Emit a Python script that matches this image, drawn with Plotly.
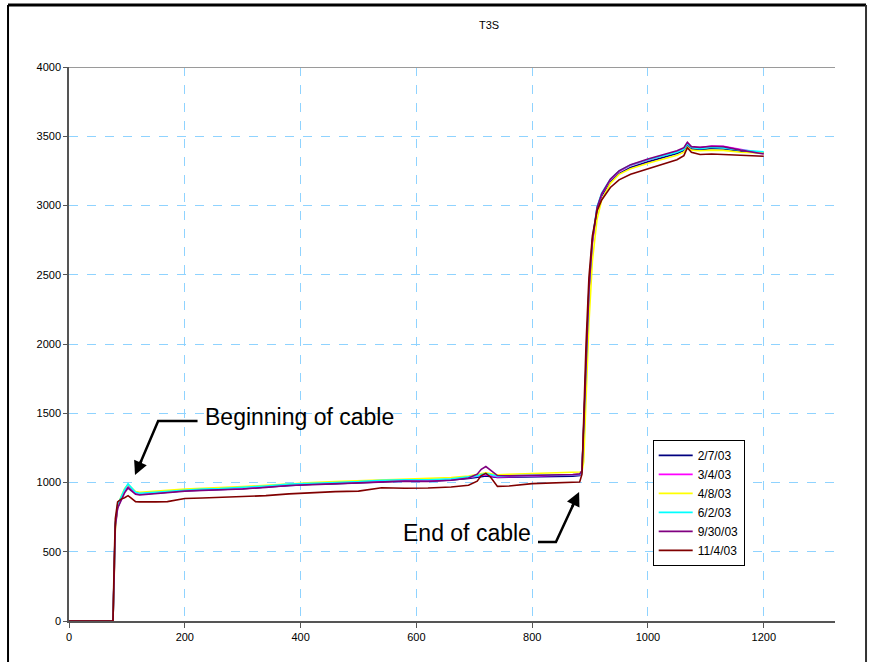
import plotly.graph_objects as go

# Distance samples shared by every trace
distance = [0, 70, 76, 78, 80, 84, 90, 96, 102, 108, 115, 122, 135, 150, 170,
            200, 230, 260, 300, 340, 380, 420, 460, 500, 540, 580, 620, 660,
            690, 705, 712, 720, 728, 740, 760, 800, 840, 870, 882, 886, 889,
            893, 898, 904, 912, 920, 935, 950, 970, 1000, 1030, 1050, 1062,
            1068, 1075, 1090, 1110, 1130, 1160, 1180, 1200]

trace_2_7_03 = [0, 0, 0, 350, 700, 820, 880, 940, 975, 950, 920, 915, 918, 925, 930,
                940, 945, 948, 955, 968, 980, 988, 992, 998, 1008, 1012, 1010, 1018,
                1030, 1036, 1042, 1048, 1044, 1036, 1038, 1040, 1044, 1046, 1050, 1075, 1380,
                1880, 2380, 2740, 2970, 3070, 3170, 3230, 3275, 3315, 3350, 3375, 3398,
                3440, 3410, 3402, 3412, 3408, 3392, 3384, 3380]

trace_3_4_03 = [0, 0, 0, 330, 690, 830, 890, 945, 980, 955, 925, 918, 922, 928, 935,
                944, 948, 952, 960, 972, 984, 992, 996, 1003, 1012, 1016, 1015, 1022,
                1034, 1042, 1050, 1056, 1050, 1040, 1042, 1045, 1048, 1052, 1056, 1080, 1360,
                1850, 2360, 2730, 2980, 3080, 3185, 3245, 3290, 3330, 3365, 3390, 3412,
                3452, 3420, 3418, 3430, 3428, 3405, 3390, 3376]

trace_4_8_03 = [0, 0, 0, 300, 660, 840, 900, 955, 985, 965, 935, 930, 934, 940, 945,
                952, 958, 962, 970, 980, 992, 1000, 1006, 1012, 1022, 1028, 1030, 1036,
                1046, 1056, 1064, 1070, 1064, 1056, 1060, 1064, 1068, 1072, 1076, 1078, 1150,
                1600, 2150, 2600, 2900, 3040, 3160, 3225, 3265, 3305, 3340, 3362, 3385,
                3420, 3400, 3395, 3400, 3398, 3385, 3380, 3378]

trace_6_2_03 = [0, 0, 0, 340, 700, 840, 895, 950, 990, 960, 930, 922, 926, 932, 938,
                948, 952, 956, 963, 975, 988, 996, 1000, 1006, 1016, 1020, 1020, 1026,
                1040, 1048, 1058, 1064, 1058, 1046, 1048, 1050, 1052, 1054, 1058, 1080, 1400,
                1900, 2400, 2760, 2990, 3090, 3190, 3250, 3292, 3330, 3362, 3385, 3405,
                3445, 3418, 3410, 3420, 3416, 3400, 3392, 3388]

trace_9_30_03 = [0, 0, 0, 320, 680, 815, 870, 925, 960, 940, 915, 910, 915, 922, 928,
                 938, 943, 946, 953, 965, 978, 985, 990, 996, 1005, 1010, 1008, 1016,
                 1032, 1060, 1095, 1115, 1090, 1050, 1048, 1050, 1054, 1058, 1062, 1085, 1390,
                 1890, 2390, 2750, 2985, 3085, 3190, 3250, 3295, 3335, 3370, 3395, 3418,
                 3456, 3425, 3420, 3428, 3425, 3400, 3385, 3372]

trace_11_4_03 = [0, 0, 0, 420, 740, 860, 880, 890, 905, 885, 862, 860, 862, 860, 862,
                 885, 888, 892, 898, 905, 918, 928, 934, 938, 962, 958, 960, 968,
                 980, 1010, 1050, 1066, 1040, 972, 975, 992, 998, 1000, 1004, 1060, 1500,
                 2000, 2480, 2780, 2960, 3040, 3130, 3185, 3225, 3265, 3300, 3330, 3360,
                 3418, 3385, 3368, 3372, 3368, 3362, 3358, 3356]

series_names = ["2/7/03", "3/4/03", "4/8/03", "6/2/03", "9/30/03", "11/4/03"]
series_values = [trace_2_7_03, trace_3_4_03, trace_4_8_03, trace_6_2_03,
                 trace_9_30_03, trace_11_4_03]
series_colors = ["#000080", "#FF00FF", "#FFFF00", "#00FFFF", "#800080", "#800000"]

x_ticks = [0, 200, 400, 600, 800, 1000, 1200]
y_ticks = [0, 500, 1000, 1500, 2000, 2500, 3000, 3500, 4000]

fig = go.Figure()
for name, vals, color in zip(series_names, series_values, series_colors):
    fig.add_trace(go.Scatter(x=distance, y=vals, mode="lines", name=name,
                             line=dict(color=color, width=1.6)))

grid_color = "#8fd3ff"
axis_font = dict(family="Liberation Sans, Arial, sans-serif", size=11, color="#000")

fig.update_xaxes(range=[0, 1323], tickvals=x_ticks, ticktext=[str(v) for v in x_ticks],
                 showgrid=True, gridcolor=grid_color, griddash="dash", gridwidth=1,
                 showline=True, linecolor="#555555", linewidth=2,
                 ticks="outside", ticklen=5, tickcolor="#555555",
                 tickfont=axis_font, zeroline=False)
fig.update_yaxes(range=[0, 4000], tickvals=y_ticks, ticktext=[str(v) for v in y_ticks],
                 showgrid=True, gridcolor=grid_color, griddash="dash", gridwidth=1,
                 showline=True, linecolor="#555555", linewidth=1.5,
                 ticks="outside", ticklen=4, tickcolor="#555555",
                 tickfont=axis_font, zeroline=False)

label_font = dict(family="Liberation Sans Narrow, Arial Narrow, Liberation Sans, sans-serif",
                  size=23, color="#000")

# "Beginning of cable" callout: bent leader line plus arrowhead
fig.add_shape(type="path", xref="x", yref="y",
              path="M 222 1444 L 154 1444 L 122 1130",
              line=dict(color="#000", width=2.5))
fig.add_annotation(x=114, y=1054, ax=126, ay=1170, axref="x", ayref="y",
                   xref="x", yref="y", text="", showarrow=True,
                   arrowhead=2, arrowsize=1.1, arrowwidth=2.5, arrowcolor="#000")
fig.add_annotation(x=232, y=1473, xref="x", yref="y", text="Beginning of cable",
                   showarrow=False, xanchor="left", yanchor="middle", font=label_font)

# "End of cable" callout
fig.add_shape(type="path", xref="x", yref="y",
              path="M 810 570 L 841 570 L 872 850",
              line=dict(color="#000", width=2.5))
fig.add_annotation(x=881, y=931, ax=868, ay=815, axref="x", ayref="y",
                   xref="x", yref="y", text="", showarrow=True,
                   arrowhead=2, arrowsize=1.1, arrowwidth=2.5, arrowcolor="#000")
fig.add_annotation(x=802, y=635, xref="x", yref="y", text="End of cable",
                   showarrow=False, xanchor="right", yanchor="middle", font=label_font)

# top edge of the plot area
fig.add_shape(type="line", xref="paper", yref="y", x0=0, x1=1, y0=4000, y1=4000,
              line=dict(color="#9a9a9a", width=2))

# outer chart frame
fig.add_shape(type="line", xref="paper", yref="paper", x0=-0.0796, x1=1.0405,
              y0=1.112, y1=1.112, line=dict(color="#000", width=3))
fig.add_shape(type="line", xref="paper", yref="paper", x0=-0.0796, x1=-0.0796,
              y0=1.112, y1=-0.2, line=dict(color="#000", width=2))
fig.add_shape(type="line", xref="paper", yref="paper", x0=1.0405, x1=1.0405,
              y0=1.112, y1=-0.2, line=dict(color="#333", width=2))

fig.update_layout(
    width=870, height=662,
    margin=dict(l=69, r=35, t=67, b=41),
    paper_bgcolor="white", plot_bgcolor="white",
    title=dict(text="T3S", x=489 / 870, xanchor="center", y=1 - 25 / 662,
               yanchor="middle", font=dict(family="Liberation Sans, Arial, sans-serif",
                                           size=11, color="#000")),
    legend=dict(x=0.762, y=0.327, xanchor="left", yanchor="top",
                bgcolor="white", bordercolor="#000", borderwidth=1,
                font=dict(family="Liberation Sans, Arial, sans-serif", size=12, color="#000"),
                itemwidth=34, tracegroupgap=0),
    showlegend=True,
)

fig.write_html("out.html")
